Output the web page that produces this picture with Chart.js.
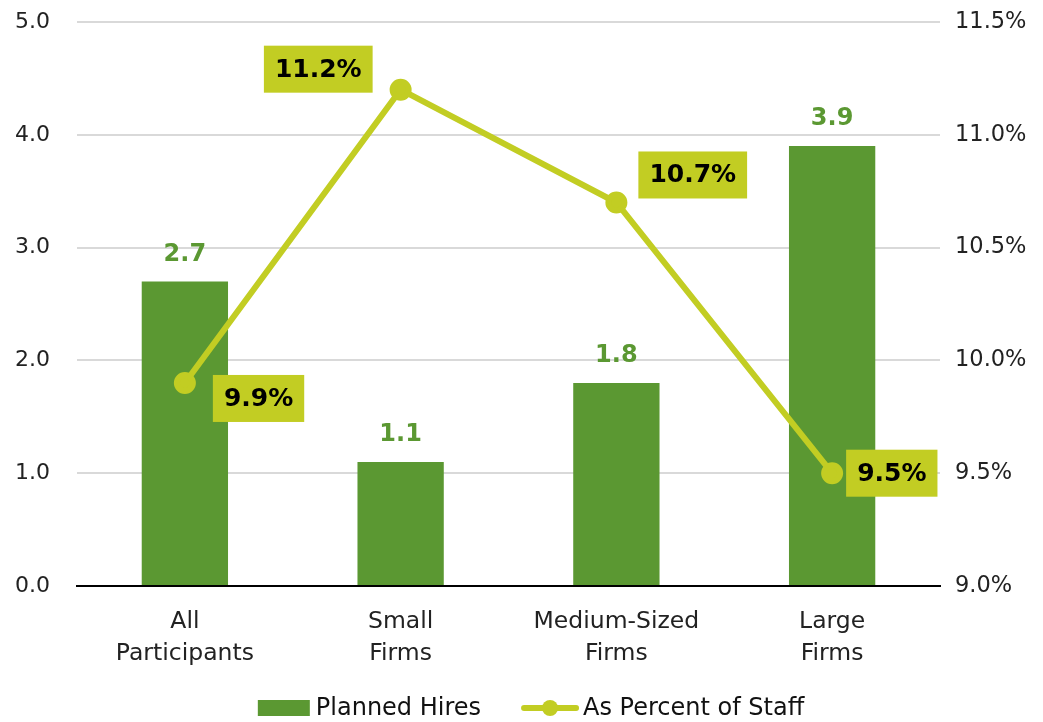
<!DOCTYPE html>
<html>
<head>
<meta charset="utf-8">
<script src="https://cdn.jsdelivr.net/npm/chart.js@4/dist/chart.umd.min.js"></script>
<style>
  html, body { margin:0; padding:0; background:#fff; }
  #wrap { width:1043px; height:722px; position:relative; }
</style>
</head>
<body>
<div id="wrap"><canvas id="chart"></canvas></div>
<script>
const CATEGORIES = [["All", "Participants"], ["Small", "Firms"], ["Medium-Sized", "Firms"], ["Large", "Firms"]];
const PLANNED_HIRES = [2.7, 1.1, 1.8, 3.9];
const PCT_OF_STAFF = [9.9, 11.2, 10.7, 9.5];
const LEFT_TICKS = [0, 1, 2, 3, 4, 5];
const RIGHT_TICKS = [9.0, 9.5, 10.0, 10.5, 11.0, 11.5];

const GREEN = "#5B9832";
const LIME = "#C2CD23";
const FONT = "'DejaVu Sans', sans-serif";

// where each percent badge sits relative to its point
const BADGE_SIDE = ["right-low", "left-up", "right-up", "right"];

function badgeBox(side, pt, w, h){
  switch (side){
    case "right-low": return { x: pt.x + 28, y: pt.y - 8 };
    case "left-up":   return { x: pt.x - 28 - w, y: pt.y - 44 };
    case "right-up":  return { x: pt.x + 22, y: pt.y - 51 };
    default:          return { x: pt.x + 14, y: pt.y - h / 2 };
  }
}

const labelsPlugin = {
  id: "valueLabels",
  afterDatasetsDraw(chart){
    const ctx = chart.ctx;
    ctx.save();
    // bar values
    chart.getDatasetMeta(0).data.forEach((bar, i) => {
      ctx.font = `bold 24px ${FONT}`;
      ctx.fillStyle = GREEN;
      ctx.textAlign = "center";
      ctx.textBaseline = "bottom";
      ctx.fillText(PLANNED_HIRES[i].toFixed(1), bar.x, bar.y - 15);
    });
    // percent badges
    chart.getDatasetMeta(1).data.forEach((pt, i) => {
      const txt = PCT_OF_STAFF[i].toFixed(1) + "%";
      ctx.font = `bold 25px ${FONT}`;
      const w = ctx.measureText(txt).width + 22, h = 47;
      const { x, y } = badgeBox(BADGE_SIDE[i], pt, w, h);
      ctx.fillStyle = LIME;
      ctx.fillRect(x, y, w, h);
      ctx.fillStyle = "#000";
      ctx.textAlign = "center";
      ctx.textBaseline = "middle";
      ctx.fillText(txt, x + w/2, y + h/2 + 1);
    });
    ctx.restore();
  }
};

// legend drawn by hand so the spacing between entries can be set freely
const legendPlugin = {
  id: "customLegend",
  afterDraw(chart){
    const ctx = chart.ctx;
    const [bars, line] = chart.data.datasets;
    ctx.save();
    ctx.font = `24px ${FONT}`;
    const w1 = ctx.measureText(bars.label).width;
    const w2 = ctx.measureText(line.label).width;
    const total = 52 + 6 + w1 + 40 + 58 + 4 + w2;
    let x = 531 - total / 2;
    const y = 708;
    ctx.fillStyle = GREEN;
    ctx.fillRect(x, y - 8, 52, 16);
    x += 58;
    ctx.fillStyle = "#111";
    ctx.textBaseline = "middle";
    ctx.fillText(bars.label, x, y + 1);
    x += w1 + 40;
    ctx.strokeStyle = LIME; ctx.lineWidth = 6; ctx.lineCap = "round";
    ctx.beginPath(); ctx.moveTo(x + 3, y); ctx.lineTo(x + 55, y); ctx.stroke();
    ctx.fillStyle = LIME;
    ctx.beginPath(); ctx.arc(x + 29, y, 8, 0, Math.PI * 2); ctx.fill();
    x += 62;
    ctx.fillStyle = "#111";
    ctx.fillText(line.label, x, y + 1);
    ctx.restore();
  }
};

// drop the extra space Chart.js keeps above/below the value axes
function trimPadding(s){ s.paddingTop = 0; s.paddingBottom = 0; }

new Chart(document.getElementById("chart"), {
  type: "bar",
  data: {
    labels: CATEGORIES,
    datasets: [
      { label: "Planned Hires", data: PLANNED_HIRES, backgroundColor: GREEN,
        yAxisID: "y", order: 1, categoryPercentage: 1.0, barPercentage: 0.4 },
      { type: "line", label: "As Percent of Staff", data: PCT_OF_STAFF, yAxisID: "y2", order: 0,
        borderColor: LIME, backgroundColor: LIME, borderWidth: 6,
        pointRadius: 8, pointHoverRadius: 8, tension: 0 }
    ]
  },
  options: {
    responsive: true,
    maintainAspectRatio: false,
    animation: false,
    layout: { padding: { top: 22, left: 0, right: 0, bottom: 0 } },
    plugins: {
      tooltip: { enabled: false },
      legend: { display: false }
    },
    scales: {
      x: {
        grid: { display: false },
        border: { color: "#000", width: 2 },
        afterFit: (s) => { s.height = 136; s.paddingLeft = 0; s.paddingRight = 0; },
        ticks: { font: { family: FONT, size: 23.5, lineHeight: 1.36 }, color: "#222", padding: 12 }
      },
      y: {
        position: "left",
        min: 0, max: 5,
        afterBuildTicks: (s) => { s.ticks = LEFT_TICKS.map(v => ({ value: v })); },
        afterFit: (s) => { s.width = 77; trimPadding(s); },
        grid: { color: "#D9D9D9", lineWidth: 2, drawTicks: false },
        border: { display: false },
        ticks: { font: { family: FONT, size: 22 }, color: "#222", padding: 27,
                 callback: (v) => v.toFixed(1) }
      },
      y2: {
        position: "right",
        min: 9, max: 11.5,
        afterBuildTicks: (s) => { s.ticks = RIGHT_TICKS.map(v => ({ value: v })); },
        afterFit: (s) => { s.width = 103; trimPadding(s); },
        grid: { display: false, drawTicks: false },
        border: { display: false },
        ticks: { font: { family: FONT, size: 22.5 }, color: "#222", padding: 15,
                 callback: (v) => v.toFixed(1) + "%" }
      }
    }
  },
  plugins: [labelsPlugin, legendPlugin]
});
</script>
</body>
</html>
